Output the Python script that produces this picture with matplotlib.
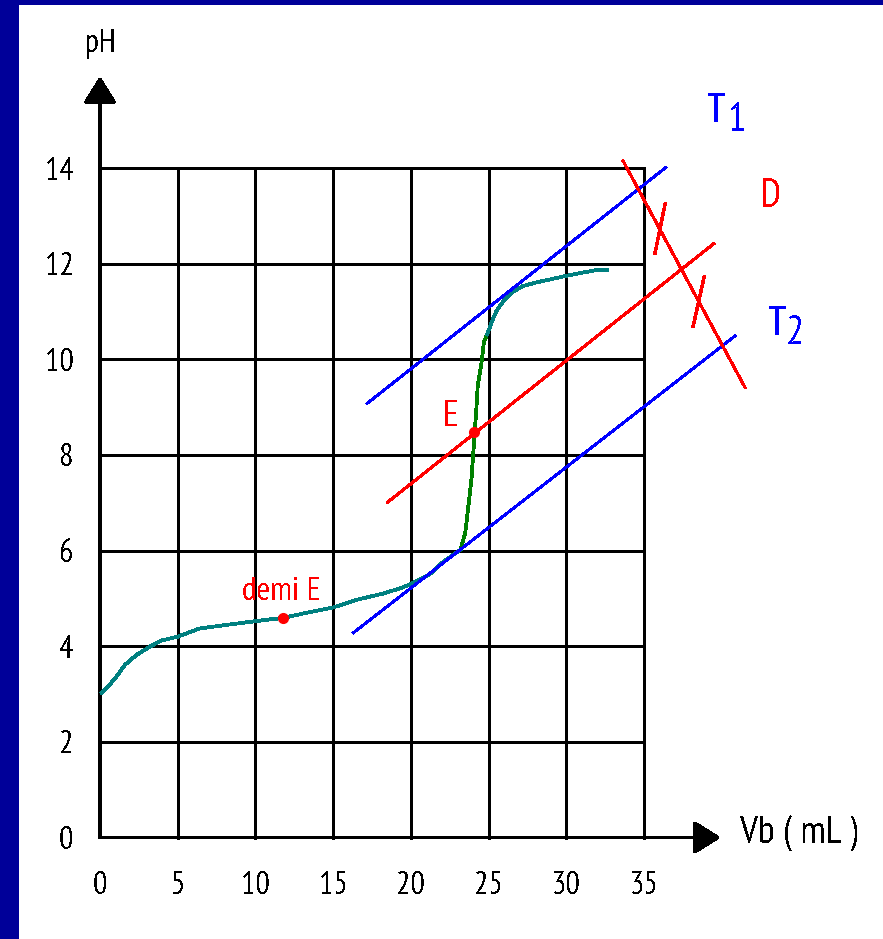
import matplotlib
matplotlib.use("Agg")
import matplotlib.pyplot as plt
from matplotlib.patches import Rectangle
from matplotlib import font_manager as fm

_names = set(f.name for f in fm.fontManager.ttflist)
_pref = ['Liberation Sans Narrow', 'Arial Narrow', 'PT Sans Narrow', 'Pragati Narrow',
         'Roboto Condensed', 'Archivo Narrow', 'Liberation Sans']
_chosen = [n for n in _pref if n in _names][:1]
plt.rcParams['font.family'] = _chosen + ['DejaVu Sans']
plt.rcParams['lines.antialiased'] = False
plt.rcParams['text.antialiased'] = False
plt.rcParams['patch.antialiased'] = False

# ---------------- data ----------------
x_ticks = [0, 5, 10, 15, 20, 25, 30, 35]
x_tick_labels = ['0', '5', '10', '15', '20', '25', '30', '35']
y_ticks = [0, 2, 4, 6, 8, 10, 12, 14]
y_tick_labels = ['0', '2', '4', '6', '8', '10', '12', '14']

# titration curve, first teal part (Vb in mL, pH)
vb_acid = [0.1, 0.53, 1.07, 1.6, 2.36, 3.2, 3.97, 5.0, 6.4, 8.0, 9.2, 10.9, 11.75,
           13.3, 15.0, 16.5, 18.2, 19.4, 19.9, 21.2, 22.1, 23.2]
ph_acid = [3.03, 3.16, 3.37, 3.61, 3.82, 3.99, 4.12, 4.20, 4.37, 4.44, 4.49, 4.56, 4.59,
           4.70, 4.81, 4.97, 5.10, 5.22, 5.29, 5.50, 5.77, 6.02]
# steep jump (green)
vb_jump = [23.2, 23.5, 23.7, 23.9, 24.05, 24.2, 24.3, 24.55, 24.7, 24.9]
ph_jump = [6.02, 6.37, 6.93, 7.49, 8.20, 8.89, 9.44, 9.94, 10.36, 10.52]
# after equivalence (teal)
vb_base = [24.9, 25.2, 25.5, 25.9, 26.5, 27.2, 28.1, 29.1, 30.2, 32.0, 32.6]
ph_base = [10.52, 10.77, 11.01, 11.19, 11.40, 11.53, 11.61, 11.68, 11.76, 11.87, 11.87]

# construction lines (end points)
t1_vb = [17.2, 36.4]
t1_ph = [9.08, 14.01]
t2_vb = [16.3, 40.86]
t2_ph = [4.28, 10.49]
d_vb = [18.5, 39.5]
d_ph = [7.01, 12.42]
perp_vb = [33.65, 41.5]
perp_ph = [14.15, 9.41]
mark1_vb = [36.36, 35.71]
mark1_ph = [13.25, 12.22]
mark2_vb = [38.87, 38.16]
mark2_ph = [11.72, 10.69]

# remarkable points
eq_vb, eq_ph = 24.07, 8.47
half_vb, half_ph = 11.75, 4.59

# ---------------- figure ----------------
W, H = 883, 939
fig = plt.figure(figsize=(W / 100, H / 100), dpi=100)
fig.patch.set_facecolor('white')
ax = fig.add_axes([100 / W, (H - 837.5) / H, 544 / W, 669.5 / H])
ax.set_xlim(0, 35)
ax.set_ylim(0, 14)
for s in ax.spines.values():
    s.set_visible(False)

grid_lw = 2.1
for v in x_ticks[1:]:
    ax.plot([v, v], [y_ticks[0], y_ticks[-1]], color='black', lw=grid_lw, clip_on=False, zorder=1)
for p in y_ticks[1:]:
    ax.plot([x_ticks[0], x_ticks[-1]], [p, p], color='black', lw=grid_lw, clip_on=False, zorder=1)

# axes with arrows
ax.annotate('', xy=(39.9, 0), xytext=(0, 0), annotation_clip=False,
            arrowprops=dict(arrowstyle='-|>,head_length=0.8,head_width=0.5', lw=grid_lw,
                            color='black', shrinkA=0, shrinkB=0, mutation_scale=20))
ax.annotate('', xy=(0, 15.9), xytext=(0, 0), annotation_clip=False,
            arrowprops=dict(arrowstyle='-|>,head_length=0.8,head_width=0.5', lw=grid_lw,
                            color='black', shrinkA=0, shrinkB=0, mutation_scale=20))

ax.set_xticks(x_ticks)
ax.set_xticklabels(x_tick_labels, fontsize=23)
ax.set_yticks(y_ticks)
ax.set_yticklabels(y_tick_labels, fontsize=23)
ax.tick_params(axis='x', length=0, pad=24)
ax.tick_params(axis='y', length=0, pad=19)
for lab in ax.get_yticklabels():
    lab.set_verticalalignment('center_baseline')

# curve
ax.plot(vb_acid, ph_acid, color='#008080', lw=2.0, zorder=3, clip_on=False)
ax.plot(vb_jump, ph_jump, color='#008000', lw=2.0, zorder=3, clip_on=False)
ax.plot(vb_base, ph_base, color='#008080', lw=2.0, zorder=3, clip_on=False)

# tangents and construction
ax.plot(t1_vb, t1_ph, color='#0000FF', lw=1.4, zorder=4, clip_on=False)
ax.plot(t2_vb, t2_ph, color='#0000FF', lw=1.4, zorder=4, clip_on=False)
ax.plot(d_vb, d_ph, color='#FF0000', lw=1.5, zorder=4, clip_on=False)
ax.plot(perp_vb, perp_ph, color='#FF0000', lw=1.5, zorder=4, clip_on=False)
ax.plot(mark1_vb, mark1_ph, color='#FF0000', lw=1.8, zorder=4, clip_on=False)
ax.plot(mark2_vb, mark2_ph, color='#FF0000', lw=1.8, zorder=4, clip_on=False)

ax.plot([eq_vb], [eq_ph], 'o', color='#FF0000', ms=7, zorder=5, clip_on=False)
ax.plot([half_vb], [half_ph], 'o', color='#FF0000', ms=7, zorder=5, clip_on=False)

# labels
ax.text(0.06, 16.43, 'pH', fontsize=23, ha='center', va='baseline', color='black')
ax.text(41.2, -0.12, 'Vb ( mL )', fontsize=28, ha='left', va='baseline', color='black')
ax.text(39.1, 14.96, 'T', fontsize=29, ha='left', va='baseline', color='#0000FF')
ax.text(40.4, 14.78, '1', fontsize=29, ha='left', va='baseline', color='#0000FF')
ax.text(42.5, 13.18, 'D', fontsize=29, ha='left', va='baseline', color='#FF0000')
ax.text(43.0, 10.50, 'T', fontsize=29, ha='left', va='baseline', color='#0000FF')
ax.text(44.1, 10.31, '2', fontsize=29, ha='left', va='baseline', color='#0000FF')
ax.text(22.07, 8.60, 'E', fontsize=26, ha='left', va='baseline', color='#FF0000')
ax.text(9.14, 4.97, 'demi E', fontsize=24, ha='left', va='baseline', color='#FF0000')

# blue frame (left and top)
fig.add_artist(Rectangle((0, 0), 19 / W, 1, transform=fig.transFigure, color='#000099', lw=0))
fig.add_artist(Rectangle((0, 1 - 5 / H), 1, 5 / H, transform=fig.transFigure, color='#000099', lw=0))

fig.savefig('out.png', dpi=100)
